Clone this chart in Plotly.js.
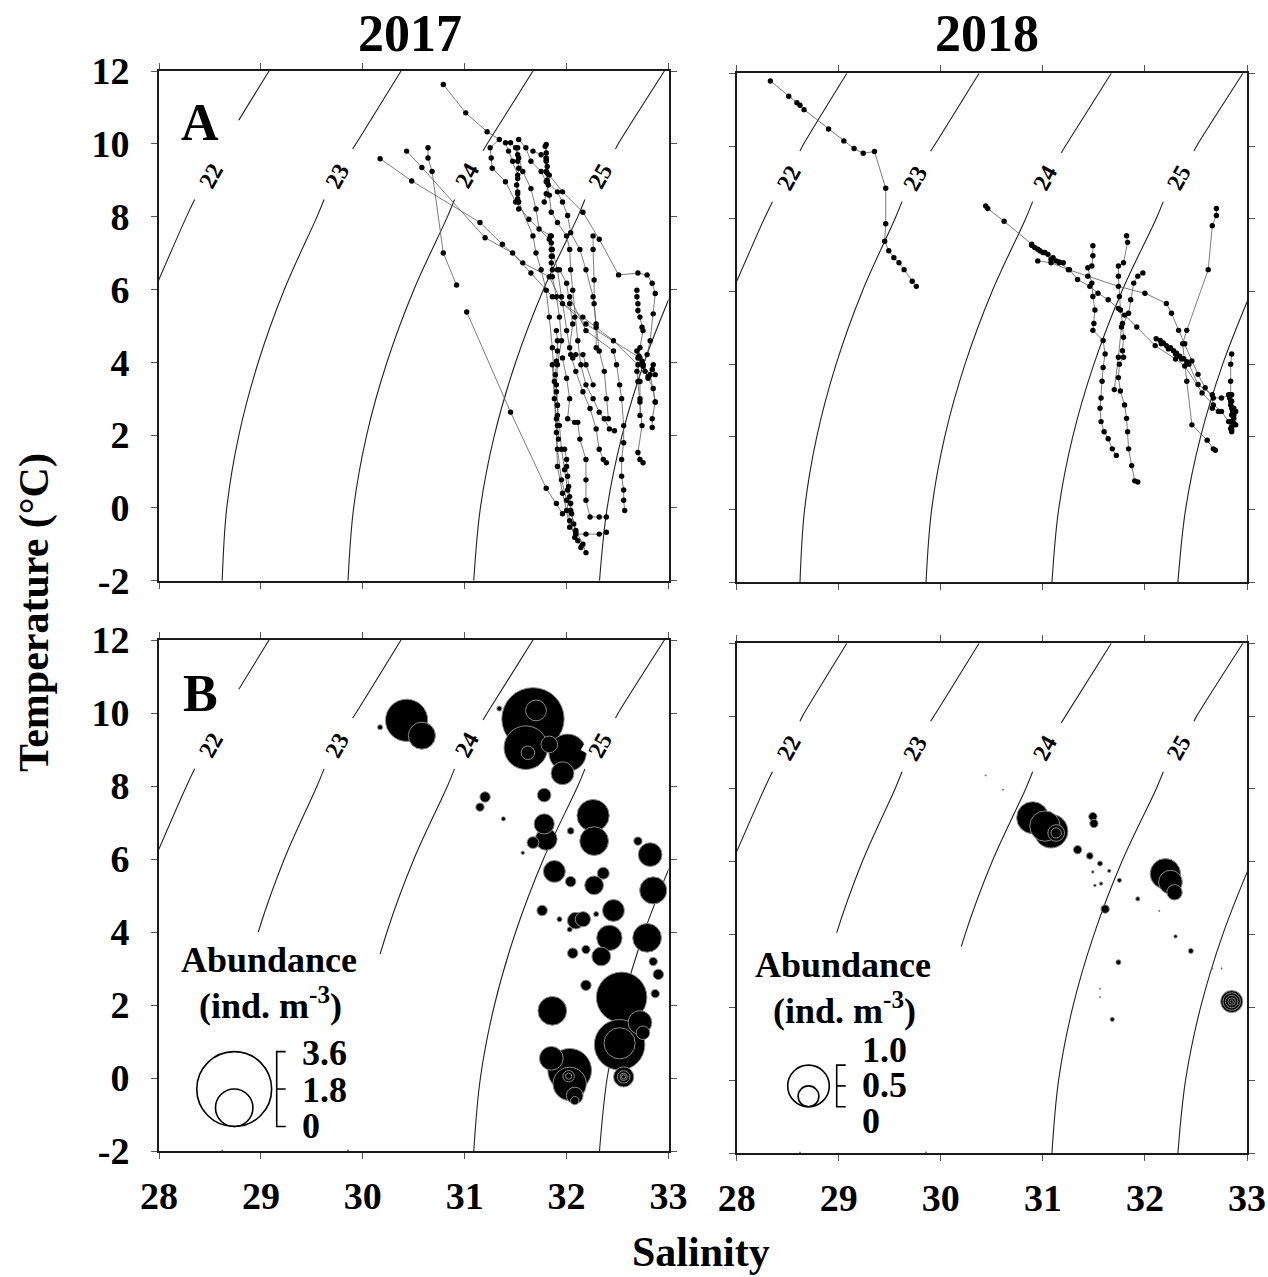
<!DOCTYPE html>
<html><head><meta charset="utf-8">
<script src="https://cdn.plot.ly/plotly-3.0.1.min.js"></script>
<style>html,body{margin:0;padding:0;background:#fff}#chart{width:1268px;height:1277px}</style>
</head><body><div id="chart"></div>
<script>
// ---------------- data ----------------
const salinityTicks = [28, 29, 30, 31, 32, 33];
const temperatureTicks = [-2, 0, 2, 4, 6, 8, 10, 12];
const yearTitles = ['2017', '2018'];
const panelLetters = ['A', 'B'];

// sigma-t isopycnals (null = gap left for the label)
const sigmaNames = ['22', '23', '24', '25', ''];
const iso22Sal = [29.08, 28.645, 28.62, null, 28.35, 28.27, 27.957];
const iso22Temp = [12, 10, 9.86, null, 8.47, 8, 6];
const iso23Sal = [30.375, 29.933, 29.90, null, 29.62, 29.551, 29.23, 28.974, 28.784, 28.665, 28.62];
const iso23Temp = [12, 10, 9.86, null, 8.47, 8, 6, 4, 2, 0, -2];
const iso24Sal = [31.67, 31.221, 31.18, null, 30.90, 30.831, 30.502, 30.237, 30.038, 29.91, 29.855];
const iso24Temp = [12, 10, 9.81, null, 8.47, 8, 6, 4, 2, 0, -2];
const iso25Sal = [32.96, 32.507, 32.48, null, 32.18, 32.11, 31.773, 31.50, 31.292, 31.154, 31.089];
const iso25Temp = [12, 10, 9.86, null, 8.47, 8, 6, 4, 2, 0, -2];
const iso26Sal = [33.043, 32.762, 32.545, 32.398, 32.323];
const iso26Temp = [6, 4, 2, 0, -2];
const sigmaLabelSal = [28.51, 29.75, 31.02, 32.33];
const sigmaLabelTemp = [9.12, 9.12, 9.12, 9.12];

// 2017 CTD T-S profiles (null separates casts)
const profSal2017 = [
 30.79,31.01,31.22,31.34,31.25,31.26,31.27,31.40,31.50,31.63,31.83,31.85,31.86,31.90,31.93,31.95,31.91,31.90,31.91,31.93,31.95,31.98,32.01,32.04,32.09,32.16,32.19, null,
 30.17,30.48,31.15,31.37,31.57,31.83,31.96,32.19,32.72,32.75,32.82,32.87,32.84,32.84, null,
 30.43,30.58,31.20,31.47,31.65,31.86,32.16,32.46,32.70,32.72,32.72,32.72, null,
 30.64,30.64,30.68,30.79,30.92, null, 31.02,31.45,31.80,31.90,31.96, null,
 31.40,31.43,31.47,31.52,31.52,31.53,31.67,31.70,31.75,31.80,31.83,31.86,31.88,31.90,31.91,31.95,32.00,32.03,32.08, null,
 31.45,31.50,31.53,31.57,31.65,31.70,31.73,31.85,31.86,31.91,31.95,32.00,32.04,32.09,32.16,32.23,32.29,32.32,32.36,32.39, null,
 31.53,31.60,31.65,31.75,31.80,31.83,31.85,31.91,32.00,32.03,32.04,32.06,32.08,32.11,32.14,32.19,32.26,32.32,32.37,32.42,32.47, null,
 31.67,31.75,31.80,31.80,31.81,31.91,31.96,32.01,32.04,32.13,32.19,32.26,32.29,32.32,32.37,32.39,32.41, null,
 31.80,31.80,31.83,31.96,32.16,32.32,32.51,32.70,32.79,32.84,32.87,32.85,32.82,32.79,32.75,32.80,32.85,32.87, null,
 32.69,32.69,32.70,32.70,32.72,32.74,32.75,32.72,32.70,32.69,32.70,32.72,32.74,32.70,32.72,32.75, null,
 32.03,32.19,32.46,32.49,32.52,32.54,32.56,32.56,32.54,32.54,32.56,32.56,32.57, null,
 31.96,32.00,32.03,32.01,32.08,32.11,32.13,32.19,32.19,32.19,32.23,32.32,32.39, null,
 31.86,31.88,31.90,31.91,31.96,32.00,32.03,32.09,32.19,32.32,32.39, null,
 31.93,32.00,32.03,32.06,32.03,32.06,32.09,32.16,32.19,32.26, null,
 32.26,32.26,32.27,32.27,32.29,32.29, null,
 31.52,31.52,31.52,31.53,31.52,31.51,31.52,31.52,31.53, null,
 31.79,31.80,31.80,31.81,31.81,31.81,31.82,31.80,31.78, null,
 31.84,31.85,31.85,31.86,31.85,31.86, null,
 31.98,32.00,32.00,32.01,32.02,32.03,32.04,32.05,32.07,32.09,32.11,32.14, null,
 31.90,31.91,31.91,31.90,31.89,31.90,31.91,31.91,31.91,31.92, null,
 32.69,32.71,32.74,32.75,32.77,32.80,32.84,32.85,32.87
];
const profTemp2017 = [
 11.63,10.85,10.33,10.12,9.89,9.61,9.33,8.96,8.40,7.93,7.38,6.91,6.35,5.80,5.24,4.59,3.93,3.38,2.82,2.26,1.61,1.05,0.49,-0.07,-0.62,-1.00,-1.23, null,
 9.59,8.98,7.84,7.24,6.73,6.35,5.61,5.05,4.12,3.93,3.66,2.91,2.45,2.21, null,
 9.80,9.35,7.42,7.00,6.45,5.80,5.24,4.59,3.93,3.47,3.00,2.54, null,
 9.89,9.61,9.24,7.00,6.12, null, 5.38,2.63,0.54,0.12,-0.16, null,
 10.03,9.80,9.52,9.14,8.68,8.40,7.47,7.00,6.54,5.98,5.24,4.40,3.47,2.45,1.61,0.77,0.21,-0.35,-0.81, null,
 10.03,9.89,9.61,9.24,8.77,8.21,7.66,7.47,7.10,6.54,5.80,4.87,4.21,3.75,3.19,2.73,2.17,1.61,1.33,1.24, null,
 10.12,9.89,9.52,9.24,8.96,8.59,8.12,7.84,7.47,7.10,6.54,5.98,5.24,4.59,3.93,3.38,3.00,2.63,2.45,2.17,2.12, null,
 9.80,9.70,9.52,9.24,8.96,8.68,8.40,8.03,7.56,7.10,6.54,5.80,5.05,4.31,3.75,3.00,2.45, null,
 9.98,9.61,9.14,8.68,8.12,7.38,6.40,6.45,6.40,6.17,5.89,5.33,4.59,4.21,3.93,3.56,3.28,2.91, null,
 5.98,5.80,5.61,5.42,5.24,4.96,4.87,4.40,4.12,3.75,3.47,2.91,2.26,1.52,1.33,1.24, null,
 5.80,4.87,4.31,3.93,3.38,3.00,2.26,1.79,1.33,0.87,0.49,0.21,-0.07, null,
 4.12,3.56,3.00,2.45,2.35,2.35,1.89,1.33,0.77,0.21,-0.25,-0.25,-0.25, null,
 3.93,3.00,2.07,1.14,0.40,-0.07,-0.53,-0.72,-0.72,-0.72,-0.67, null,
 6.54,6.17,5.61,5.05,4.40,4.12,4.21,4.21,3.93,3.38, null,
 7.47,7.10,6.26,5.61,4.96,4.40, null,
 9.89,9.70,9.52,9.33,9.05,8.87,8.63,8.49,8.21, null,
 9.93,9.75,9.56,9.38,9.19,9.00,8.87,8.63,8.40, null,
 7.47,7.28,7.10,6.91,6.73,6.54, null,
 1.61,1.33,1.14,0.87,0.59,0.31,0.12,-0.16,-0.44,-0.67,-0.90,-1.09, null,
 4.87,4.59,4.31,4.03,3.66,3.19,2.82,2.54,2.26,1.89, null,
 4.31,4.17,4.03,3.89,3.75,3.61,3.80,3.93,3.66
];

// 2018 CTD T-S profiles
const profSal2018 = [
 28.33,28.51,28.59,28.62,28.66,28.90,29.05,29.15,29.24,29.35,29.46,29.46,29.45,29.49,29.54,29.59,29.64,29.72,29.76, null,
 30.44,30.46,30.62,30.89,30.95,31.00,31.08,31.16,31.26,31.34,31.46,31.54,31.64,31.74,31.80,31.92,32.10,32.30,32.39,32.56,32.67,32.75,32.82,32.84, null,
 30.95,31.08,31.25,31.44,31.74,32.00,32.21,32.26,32.33,32.39,32.46,32.52,32.59,32.67,32.75,32.85, null,
 32.70,32.70,32.66,32.62,32.41,32.37,32.41,32.46,32.61,32.67,32.69, null,
 32.85,32.84,32.84,32.84,32.85,32.87,32.85,32.84,32.85,32.89,32.89, null,
 32.11,32.16,32.23,32.30,32.36,32.43,32.52,32.66,32.66,32.72, null,
 31.49,31.49,31.48,31.44,31.48,31.49,31.51,31.50,31.49,31.59,31.61,31.59,31.58,31.57,31.56,31.57,31.60,31.64,31.68,31.72, null,
 31.82,31.83,31.79,31.74,31.74,31.75,31.76,31.78,31.79,31.78,31.79,31.75,31.74,31.76,31.80,31.82,31.83,31.84,31.87,31.90,31.93, null,
 31.98,31.93,31.89,31.86,31.84,31.77,31.74,31.70, null,
 32.82,32.83,32.84,32.84,32.85,32.86,32.87,32.87,32.87,32.85,32.85, null,
 30.89,30.92,30.97,31.02,31.05,31.10,31.13,31.16,31.20, null,
 32.15,32.18,32.21,32.25,32.28,32.31,32.34,32.38,32.41
];
const profTemp2018 = [
 11.79,11.37,11.19,11.12,11.00,10.47,10.14,9.93,9.80,9.85,8.84,7.86,7.38,7.12,6.93,6.79,6.60,6.28,6.14, null,
 8.35,8.28,7.93,7.30,7.16,7.07,6.88,6.79,6.60,6.33,6.14,5.95,5.77,5.53,5.35,5.02,4.51,4.14,3.95,3.21,2.88,2.70,2.42,2.23, null,
 6.84,6.79,6.60,6.42,6.14,5.95,5.67,5.40,4.93,4.56,4.09,3.72,3.35,3.07,3.07,3.16, null,
 8.28,8.09,7.81,6.60,4.93,4.56,3.53,2.33,1.91,1.67,1.63, null,
 4.28,4.00,3.53,3.16,2.98,2.79,2.60,2.42,2.14,2.33,2.70, null,
 4.70,4.56,4.42,4.28,4.14,4.00,3.44,3.16,2.79,2.70, null,
 7.26,6.98,6.70,6.65,6.23,5.86,5.49,5.12,4.93,4.65,4.28,3.91,3.53,3.07,2.79,2.42,2.14,1.95,1.67,1.49, null,
 7.53,7.35,6.79,6.70,6.42,5.86,5.49,5.12,4.74,4.37,4.19,4.00,3.63,3.26,2.88,2.51,2.14,1.67,1.21,0.79,0.76, null,
 6.51,6.42,6.23,5.77,5.40,5.02,4.19,3.30, null,
 3.16,3.07,2.98,2.88,2.79,2.70,2.60,2.51,2.37,2.28,2.19, null,
 7.27,7.21,7.12,7.07,7.02,6.93,6.84,6.81,6.79, null,
 4.65,4.58,4.51,4.45,4.37,4.30,4.22,4.15,4.07
];

// abundance bubbles (ind. m-3)
const bubSal2017 = [30.43,30.58,30.17,31.67,31.70,31.60,31.62,32.01,31.96,31.83,31.34,31.78,31.20,31.15,31.38,31.78,31.80,31.67,32.26,32.27,32.04,31.57,31.88,32.04,32.36,32.27,32.70,32.82,32.85,31.76,31.93,32.09,32.16,32.29,32.46,32.03,32.42,32.79,32.06,32.19,32.34,32.85,32.90,32.54,32.19,32.87,31.86,32.72,32.75,32.52,32.52,32.56,32.56,32.56,32.56,31.85,32.03,32.03,32.08,32.08,32.02,32.02];
const bubTemp2017 = [9.80,9.38,9.61,9.84,10.07,9.05,8.91,8.91,8.35,9.14,10.12,7.75,7.70,7.42,7.10,6.96,6.54,6.45,7.19,6.49,6.77,6.17,5.66,5.38,5.61,5.28,6.49,6.12,5.14,4.59,4.35,4.31,4.35,4.49,4.59,4.07,3.84,3.84,3.42,3.52,3.33,3.19,2.84,2.21,2.54,2.31,1.84,1.52,1.24,0.91,0.95,0.03,0.03,0.03,0.03,0.54,0.21,-0.16,-0.48,-0.62,0.05,0.05];
const bubAbund2017 = [2.03,1.30,0.24,3.00,1.00,2.10,0.65,1.80,1.10,0.80,0.24,0.65,0.50,0.40,0.20,0.97,1.05,0.57,1.55,1.38,0.32,0.16,1.05,0.50,0.57,0.90,0.40,1.14,1.30,0.50,0.24,0.80,0.73,0.24,1.05,0.24,1.22,1.38,0.50,0.40,0.90,0.40,0.50,2.43,0.50,0.40,1.38,1.14,0.65,2.43,1.50,0.97,0.60,0.35,0.20,1.14,2.10,1.60,0.80,0.40,0.55,0.30];

const bubSal2018 = [30.90,31.02,31.08,31.13,31.13,31.49,31.50,31.34,31.46,31.56,31.65,31.49,31.57,31.75,31.51,31.61,31.93,32.20,32.25,32.29,32.45,32.30,31.74,31.68,32.85,32.85,32.85,32.85,32.85,30.44,30.61,32.14,31.56,31.56,32.66,32.75];
const bubTemp2018 = [7.21,6.98,6.84,6.79,6.79,7.24,7.05,6.33,6.16,5.95,5.75,5.72,5.40,5.49,5.35,4.70,4.98,5.67,5.44,5.16,3.55,3.95,3.24,1.67,2.16,2.16,2.16,2.16,2.16,8.37,7.98,4.65,2.51,2.28,3.07,3.07];
const bubAbund2018 = [0.77,0.73,0.81,0.40,0.25,0.20,0.20,0.20,0.16,0.12,0.08,0.06,0.08,0.10,0.06,0.20,0.10,0.73,0.57,0.37,0.12,0.08,0.12,0.10,0.53,0.42,0.30,0.18,0.08,0.03,0.03,0.03,0.03,0.03,0.03,0.03];

const legendValues2017 = [3.6, 1.8, 0];
const legendValues2018 = [1.0, 0.5, 0];

// ---------------- layout helpers ----------------
const W = 1268, H = 1277;
const PX = x => x / W;
const PY = y => 1 - y / H;
const FONT = '"Liberation Serif", "Times New Roman", Times, serif';
const PXU2017 = 20.8;   // pixels of diameter per ind. m-3 (2017 key)
const PXU2018 = 41.6;   // pixels of diameter per ind. m-3 (2018 key)

const boxes = [
  {x: [159, 668.5], y: [71, 580.7]},     // top-left  (x, y)
  {x: [736.7, 1247], y: [73.3, 582.3]},  // top-right (x2, y2)
  {x: [159, 668.5], y: [640, 1151]},     // bottom-left (x3, y3)
  {x: [736.7, 1247], y: [643.3, 1153]}   // bottom-right (x4, y4)
];
const axId = i => (i === 0 ? '' : String(i + 1));

const layout = {
  width: W, height: H,
  margin: {l: 0, r: 0, t: 0, b: 0},
  paper_bgcolor: '#fff', plot_bgcolor: '#fff',
  showlegend: false,
  font: {family: FONT, color: '#000'},
  annotations: [], shapes: []
};

boxes.forEach((b, i) => {
  const id = axId(i);
  const bottomRow = i >= 2, leftCol = (i % 2 === 0);
  layout['xaxis' + id] = {
    domain: [PX(b.x[0]), PX(b.x[1])], range: [28, 33], anchor: 'y' + id,
    tickvals: salinityTicks, ticktext: salinityTicks.map(String),
    showline: true, linecolor: '#1a1a1a', linewidth: 2, mirror: 'ticks',
    ticks: 'outside', ticklen: 6, tickwidth: 1, tickcolor: '#555',
    showgrid: false, zeroline: false, showticklabels: bottomRow,
    ticklabelstandoff: 4,
    tickfont: {family: FONT, size: 38, color: '#000', weight: 'bold'}, fixedrange: true
  };
  layout['yaxis' + id] = {
    domain: [PY(b.y[1]), PY(b.y[0])], range: [-2, 12], anchor: 'x' + id,
    tickvals: temperatureTicks, ticktext: temperatureTicks.map(String),
    showline: true, linecolor: '#1a1a1a', linewidth: 2, mirror: 'ticks',
    ticks: 'outside', ticklen: 6, tickwidth: 1, tickcolor: '#555',
    showgrid: false, zeroline: false, showticklabels: leftCol,
    ticklabelstandoff: 14,
    tickfont: {family: FONT, size: 38, color: '#000', weight: 'bold'}, fixedrange: true
  };
});

const traces = [];
const isoSal = [iso22Sal, iso23Sal, iso24Sal, iso25Sal, iso26Sal];
const isoTemp = [iso22Temp, iso23Temp, iso24Temp, iso25Temp, iso26Temp];

boxes.forEach((b, i) => {
  const id = axId(i);
  isoSal.forEach((s, k) => {
    traces.push({
      x: s, y: isoTemp[k], xaxis: 'x' + id, yaxis: 'y' + id,
      type: 'scatter', mode: 'lines', connectgaps: false, hoverinfo: 'skip',
      line: {color: '#222', width: 1.1, shape: 'spline', smoothing: 1}
    });
  });
  sigmaNames.forEach((n, k) => {
    if (!n) return;
    layout.annotations.push({
      xref: 'x' + id, yref: 'y' + id, x: sigmaLabelSal[k], y: sigmaLabelTemp[k],
      text: n, showarrow: false, textangle: -61,
      font: {family: FONT, size: 24, color: '#000', weight: 'bold'},
      bgcolor: 'rgba(255,255,255,1)', borderpad: 1
    });
  });
});

// profiles (top row)
[[profSal2017, profTemp2017, ''], [profSal2018, profTemp2018, '2']].forEach(([s, t, id]) => {
  traces.push({
    x: s, y: t, xaxis: 'x' + id, yaxis: 'y' + id, type: 'scatter',
    mode: 'lines+markers', connectgaps: false, hoverinfo: 'skip',
    line: {color: '#5a5a5a', width: 0.8},
    marker: {color: '#000', size: 5.4, opacity: 1}
  });
});

// bubbles (bottom row), drawn biggest first so inner rings show
function bubbleTrace(s, t, a, id, pxu) {
  const order = a.map((v, k) => k).sort((p, q) => a[q] - a[p]);
  return {
    x: order.map(k => s[k]), y: order.map(k => t[k]),
    xaxis: 'x' + id, yaxis: 'y' + id, type: 'scatter', mode: 'markers', hoverinfo: 'skip',
    marker: {size: order.map(k => a[k]), sizemode: 'diameter', sizeref: 1 / pxu, opacity: 1,
             color: '#000', line: {color: '#8c8c8c', width: 1}}
  };
}
traces.push(bubbleTrace(bubSal2017, bubTemp2017, bubAbund2017, '3', PXU2017));
traces.push(bubbleTrace(bubSal2018, bubTemp2018, bubAbund2018, '4', PXU2018));

// white areas behind panel letters (left column) and abundance keys (bottom row)
['', '3'].forEach(id => {
  layout.shapes.push({type: 'rect', xref: 'x' + id, yref: 'y' + id, x0: 28.45, x1: 28.95, y0: 9.8, y1: 10.65,
    fillcolor: '#fff', line: {width: 0}, layer: 'above'});
});
[['3', 4.0, 3.4], ['4', 4.05, 3.67]].forEach(([id, t1, t2]) => {
  layout.shapes.push({type: 'rect', xref: 'x' + id, yref: 'y' + id, x0: 28.03, x1: 29.8, y0: -1.96, y1: t1,
    fillcolor: '#fff', line: {width: 0}, layer: 'above'});
  layout.shapes.push({type: 'rect', xref: 'x' + id, yref: 'y' + id, x0: 28.03, x1: 30.35, y0: -1.96, y1: t2,
    fillcolor: '#fff', line: {width: 0}, layer: 'above'});
});

// text annotations (paper)
function note(text, x, y, size, opts) {
  layout.annotations.push(Object.assign({
    xref: 'paper', yref: 'paper', x: PX(x), y: PY(y), text: text, showarrow: false,
    xanchor: 'center', yanchor: 'middle',
    font: {family: FONT, size: size, color: '#000', weight: 'bold'}
  }, opts || {}));
}
note(yearTitles[0], 410, 33, 52);
note(yearTitles[1], 987, 33, 52);
note('Salinity', 701, 1252, 42);
note('Temperature (°C)', 34, 613, 42, {textangle: -90});
note(panelLetters[0], 200, 123, 52);
note(panelLetters[1], 200, 693, 52);

// abundance keys
function abundanceKey(vals, pxu, cx, bottom, brX, labX, labYs, titleX, titleY) {
  note('Abundance', titleX, titleY, 36);
  note('(ind. m<sup>-3</sup>)', titleX + 1, titleY + 43, 36);
  vals.forEach(v => {
    if (v <= 0) return;
    const r = v * pxu / 2;
    layout.shapes.push({type: 'circle', xref: 'paper', yref: 'paper',
      x0: PX(cx - r), x1: PX(cx + r), y0: PY(bottom), y1: PY(bottom - 2 * r),
      line: {color: '#000', width: 1.6}, fillcolor: 'rgba(0,0,0,0)', layer: 'above'});
  });
  const top = bottom - vals[0] * pxu, mid = bottom - vals[1] * pxu, tl = 9;
  layout.shapes.push({type: 'path', xref: 'paper', yref: 'paper', layer: 'above',
    path: `M ${PX(brX + tl)} ${PY(top)} L ${PX(brX)} ${PY(top)} L ${PX(brX)} ${PY(bottom)} L ${PX(brX + tl)} ${PY(bottom)} M ${PX(brX)} ${PY(mid)} L ${PX(brX + tl)} ${PY(mid)}`,
    line: {color: '#000', width: 1.6}});
  vals.forEach((v, k) => {
    note(v === 0 ? '0' : v.toFixed(1), labX, labYs[k], 36, {xanchor: 'left'});
  });
}
abundanceKey(legendValues2017, PXU2017, 234.2, 1126.5, 276.7, 300, [1053, 1090, 1126], 269, 960);
abundanceKey(legendValues2018, PXU2018, 808.5, 1106.7, 836.7, 860, [1050, 1085, 1121], 843, 965);

Plotly.newPlot('chart', traces, layout, {staticPlot: true, displayModeBar: false});
</script>
</body></html>
